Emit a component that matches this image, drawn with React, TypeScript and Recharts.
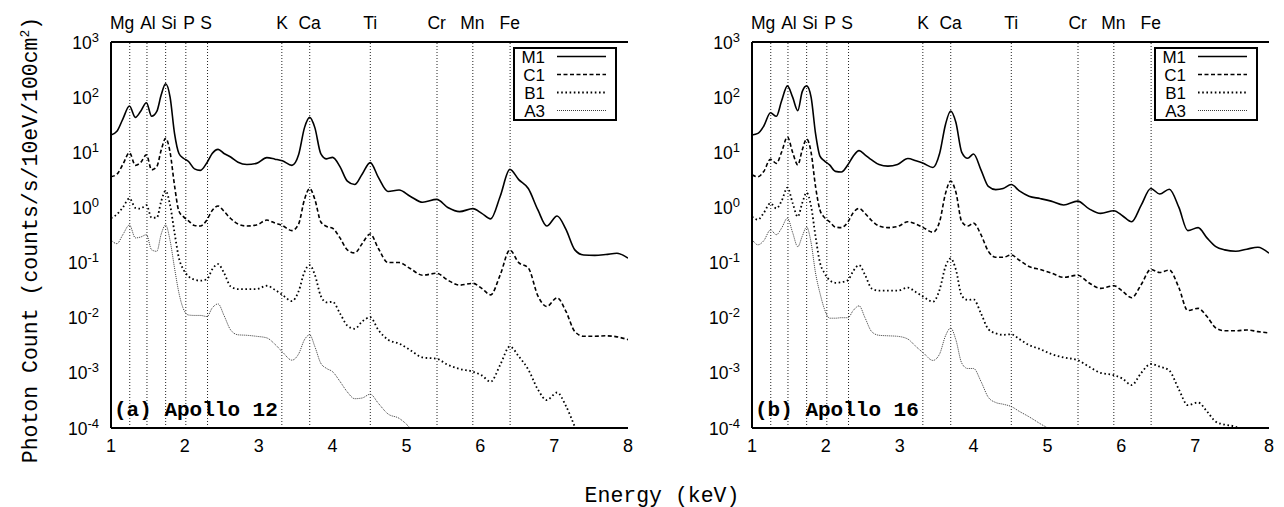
import React from 'react';
import { LineChart, Line, XAxis, YAxis, ReferenceLine, Legend } from 'recharts';

// ---------- data ----------
const energy = [1.00,1.08,1.16,1.25,1.33,1.40,1.48,1.55,1.62,1.68,1.74,1.80,1.86,1.92,1.98,2.05,2.13,2.21,2.30,2.37,2.45,2.53,2.62,2.72,2.84,2.97,3.11,3.22,3.32,3.45,3.54,3.62,3.69,3.76,3.84,3.92,4.00,4.10,4.20,4.30,4.40,4.51,4.62,4.75,4.90,5.05,5.22,5.41,5.56,5.72,5.90,6.02,6.14,6.27,6.40,6.52,6.65,6.78,6.90,7.04,7.16,7.28,7.40,7.55,7.70,7.85,8.00];

const m1Apollo12 = [20.6,24,40,69,43,55,79,45,55,110,175,100,22,9.5,7.8,6.8,5.0,4.7,6.5,9.5,11.3,9.5,8.2,6.6,6.0,6.3,8.0,7.5,7.0,5.8,9,28,43,28,9.5,7.6,8.1,5.5,3.0,2.6,4.0,6.5,3.5,1.95,2.07,1.6,1.24,1.40,1.0,0.84,0.95,0.78,0.62,1.6,4.9,3.2,2.2,0.9,0.46,0.70,0.40,0.17,0.137,0.135,0.14,0.148,0.12];
const c1Apollo12 = [3.6,4.0,6.0,9.8,5.8,6.5,9.0,4.8,5.5,11,18,10,2.5,0.85,0.68,0.57,0.47,0.46,0.6,0.88,1.06,0.85,0.63,0.5,0.46,0.48,0.59,0.52,0.47,0.38,0.5,1.4,2.2,1.4,0.55,0.45,0.42,0.28,0.17,0.15,0.22,0.33,0.18,0.10,0.10,0.078,0.059,0.064,0.048,0.039,0.042,0.034,0.026,0.06,0.168,0.1,0.08,0.025,0.016,0.023,0.013,0.0056,0.0046,0.0046,0.0047,0.0045,0.004];
const b1Apollo12 = [0.64,0.75,1.0,1.46,0.98,0.95,1.1,0.65,0.65,1.3,2.0,1.1,0.35,0.12,0.075,0.056,0.049,0.047,0.05,0.075,0.094,0.065,0.037,0.033,0.033,0.033,0.038,0.032,0.026,0.020,0.03,0.068,0.09,0.06,0.025,0.019,0.0195,0.012,0.0072,0.0063,0.0085,0.0102,0.006,0.004,0.0034,0.0026,0.0019,0.0018,0.0014,0.00118,0.00105,0.0009,0.00069,0.0014,0.003,0.002,0.00115,0.0005,0.00032,0.00044,0.00025,0.000105,0.00004,null,null,null,null];
const a3Apollo12 = [0.257,0.22,0.32,0.48,0.28,0.29,0.32,0.17,0.16,0.33,0.48,0.25,0.08,0.028,0.0145,0.0112,0.011,0.011,0.0105,0.015,0.0178,0.011,0.006,0.0049,0.0048,0.0046,0.0043,0.0033,0.0024,0.0017,0.0022,0.004,0.0049,0.003,0.0015,0.0012,0.00105,0.0007,0.00045,0.00034,0.00035,0.00041,0.00028,0.00018,0.00015,0.0001,0.00005,null,null,null,null,null,null,null,null,null,null,null,null,null,null,null,null,null,null,null,null];

const m1Apollo16 = [20.6,22,30,52,45,85,160,100,57,126,160,100,22,8.5,7.0,5.9,4.5,4.4,6.0,8.5,10.7,9,7.3,6.0,5.6,6.0,7.7,7.0,6.3,5.3,9.5,32,56,35,10,7.8,9.3,4.8,2.4,2.1,2.2,2.6,2.0,1.6,1.45,1.3,1.11,1.30,0.95,0.78,0.87,0.7,0.55,1.1,2.2,1.75,2.14,1.0,0.38,0.43,0.28,0.195,0.17,0.16,0.175,0.19,0.148];
const c1Apollo16 = [3.9,3.6,4.5,7.5,6.3,10,19,10,5.9,11,17.4,10,2.4,0.9,0.66,0.55,0.44,0.43,0.55,0.8,0.96,0.78,0.58,0.46,0.43,0.45,0.55,0.5,0.43,0.355,0.55,1.8,3.0,1.9,0.55,0.46,0.52,0.32,0.16,0.125,0.125,0.137,0.11,0.085,0.075,0.065,0.054,0.059,0.043,0.034,0.038,0.03,0.023,0.04,0.075,0.066,0.073,0.035,0.0135,0.0148,0.0105,0.0065,0.0058,0.0058,0.006,0.0056,0.0053];
const b1Apollo16 = [0.68,0.6,0.8,1.19,0.96,1.3,2.29,1.2,0.68,1.2,1.85,1.05,0.3,0.1,0.065,0.048,0.043,0.044,0.048,0.07,0.09,0.06,0.034,0.031,0.031,0.031,0.035,0.029,0.024,0.0195,0.032,0.085,0.119,0.075,0.025,0.021,0.0215,0.012,0.0062,0.0052,0.0049,0.005,0.0041,0.0032,0.0027,0.0022,0.0019,0.0017,0.0013,0.001,0.00091,0.00078,0.0006,0.001,0.00145,0.0013,0.0011,0.0005,0.00026,0.00029,0.0002,0.00013,0.000115,0.000105,0.00005,null,null];
const a3Apollo16 = [0.264,0.21,0.25,0.39,0.32,0.42,0.64,0.35,0.194,0.3,0.44,0.23,0.065,0.028,0.0145,0.0098,0.0098,0.01,0.01,0.0135,0.0164,0.01,0.0056,0.0048,0.0047,0.0046,0.0041,0.003,0.0023,0.00168,0.0022,0.0047,0.0065,0.004,0.0015,0.0012,0.0012,0.0007,0.00036,0.00029,0.00027,0.000245,0.0002,0.00016,0.00012,0.00009,0.00005,null,null,null,null,null,null,null,null,null,null,null,null,null,null,null,null,null,null,null,null];

const seriesNames = ['M1', 'C1', 'B1', 'A3'];
const elementNames = ['Mg', 'Al', 'Si', 'P', 'S', 'K', 'Ca', 'Ti', 'Cr', 'Mn', 'Fe'];
const elementEnergies = [1.254, 1.487, 1.740, 2.013, 2.307, 3.313, 3.691, 4.511, 5.414, 5.899, 6.404];
const elementLabelEnergies = [1.15, 1.50, 1.785, 2.056, 2.286, 3.315, 3.69, 4.51, 5.41, 5.894, 6.40];
const xTicks = [1, 2, 3, 4, 5, 6, 7, 8];
const yTicks = [1e-4, 1e-3, 1e-2, 1e-1, 1, 10, 100, 1000];
const minorMultipliers = [2, 3, 4, 5, 6, 7, 8, 9];
const yMinorTicks = yTicks.slice(0, 7).flatMap((d) => minorMultipliers.map((m) => m * d));

// ---------- styles ----------
const SANS = '"Liberation Sans", Arial, Helvetica, sans-serif';
const MONO = '"Liberation Mono", "Courier New", monospace';
const lineStyles = [
  { stroke: '#000', strokeWidth: 1.6, dash: undefined as string | undefined },
  { stroke: '#000', strokeWidth: 1.6, dash: '4 2.5' },
  { stroke: '#000', strokeWidth: 1.8, dash: '1.6 2.6' },
  { stroke: '#3a3a3a', strokeWidth: 1, dash: '1 1' },
];
const W_PLOT_RIGHT = 628;

const LogTick = (props: any) => {
  const { x, y, payload } = props;
  const exp = Math.round(Math.log10(payload.value));
  return (
    <text x={x} y={y} dy={6.5} textAnchor="end" fontFamily={SANS} fontSize={17.5} fill="#000">
      10
      <tspan dy={-7} fontSize={13}>{String(exp)}</tspan>
    </text>
  );
};

const LegendBox = () => (
  <svg width={104} height={74} style={{ display: 'block' }}>
    <rect x={1} y={1} width={102} height={72} fill="#fff" stroke="#000" strokeWidth={2} />
    {seriesNames.map((n, i) => (
      <g key={n}>
        <text x={32} y={15.5 + 18.3 * i} textAnchor="end" fontFamily={SANS} fontSize={17} fill="#000">{n}</text>
        <line
          x1={44}
          x2={93}
          y1={9.5 + 18 * i}
          y2={9.5 + 18 * i}
          stroke={lineStyles[i].stroke}
          strokeWidth={lineStyles[i].strokeWidth}
          strokeDasharray={lineStyles[i].dash}
        />
      </g>
    ))}
  </svg>
);

function Panel({ series, width }: { series: (number | null)[][]; width: number }) {
  const data = energy.map((e, i) => ({ e, s0: series[0][i], s1: series[1][i], s2: series[2][i], s3: series[3][i] }));
  const axisLine = { stroke: '#000', strokeWidth: 2 };
  const tickLine = { stroke: '#000', strokeWidth: 1.3 };
  return (
    <LineChart width={width} height={507} data={data} margin={{ top: 12, right: width - W_PLOT_RIGHT, bottom: 49, left: 51 }}>
      <XAxis xAxisId="b" orientation="bottom" dataKey="e" type="number" domain={[1, 8]} allowDataOverflow ticks={xTicks} interval={0}
        height={30} tickLine={false} tickSize={0} tickMargin={11} axisLine={axisLine}
        tick={{ fill: '#000', fontSize: 18, fontFamily: SANS }} />
      <XAxis xAxisId="bt" orientation="bottom" mirror dataKey="e" type="number" domain={[1, 8]} allowDataOverflow ticks={xTicks} interval={0}
        height={0} tick={false} tickSize={7} tickLine={tickLine} axisLine={false} />
      <XAxis xAxisId="t" orientation="top" dataKey="e" type="number" domain={[1, 8]} allowDataOverflow ticks={elementLabelEnergies} interval={0}
        tickFormatter={(v: number) => elementNames[elementLabelEnergies.indexOf(v)] ?? ''}
        height={30} tickLine={false} tickSize={0} tickMargin={13} axisLine={axisLine}
        tick={{ fill: '#000', fontSize: 17.5, fontFamily: SANS }} />
      <XAxis xAxisId="tt" orientation="top" mirror dataKey="e" type="number" domain={[1, 8]} allowDataOverflow ticks={xTicks} interval={0}
        height={0} tick={false} tickSize={7} tickLine={tickLine} axisLine={false} />

      <YAxis yAxisId="l" orientation="left" width={60} type="number" scale="log" domain={[1e-4, 1e3]} allowDataOverflow ticks={yTicks} interval={0}
        tickLine={false} tickSize={0} tickMargin={12} axisLine={axisLine} tick={(p: any) => <LogTick {...p} />} />
      <YAxis yAxisId="lt" orientation="left" mirror width={0} type="number" scale="log" domain={[1e-4, 1e3]} allowDataOverflow ticks={yTicks} interval={0}
        tick={false} tickSize={7} tickLine={tickLine} axisLine={false} />
      <YAxis yAxisId="lm" orientation="left" mirror width={0} type="number" scale="log" domain={[1e-4, 1e3]} allowDataOverflow ticks={yMinorTicks} interval={0}
        tick={false} tickSize={4} tickLine={tickLine} axisLine={false} />
      <YAxis yAxisId="r" orientation="right" mirror width={0} type="number" scale="log" domain={[1e-4, 1e3]} allowDataOverflow ticks={yTicks} interval={0}
        tick={false} tickSize={7} tickLine={tickLine} axisLine={axisLine} />
      <YAxis yAxisId="rm" orientation="right" mirror width={0} type="number" scale="log" domain={[1e-4, 1e3]} allowDataOverflow ticks={yMinorTicks} interval={0}
        tick={false} tickSize={4} tickLine={tickLine} axisLine={false} />

      {elementEnergies.map((x) => (
        <ReferenceLine key={x} x={x} xAxisId="b" yAxisId="l" stroke="#222" strokeWidth={1} strokeDasharray="1 2" />
      ))}

      {seriesNames.map((n, i) => (
        <Line key={n} name={n} xAxisId="b" yAxisId="l" dataKey={`s${i}`} type="monotone"
          stroke={lineStyles[i].stroke} strokeWidth={lineStyles[i].strokeWidth} strokeDasharray={lineStyles[i].dash}
          dot={false} activeDot={false} isAnimationActive={false} connectNulls={false} />
      ))}

      <Legend layout="vertical" verticalAlign="middle" align="center" content={() => <LegendBox />}
        wrapperStyle={{ left: 513, top: 47, width: 104, height: 74 }} />
    </LineChart>
  );
}

export default function App() {
  return (
    <div style={{ position: 'absolute', left: 0, top: 0, width: 1284, height: 507, background: '#fff', overflow: 'hidden' }}>
      <div style={{ position: 'absolute', left: 0, top: 0 }}>
        <Panel series={[m1Apollo12, c1Apollo12, b1Apollo12, a3Apollo12]} width={641} />
      </div>
      <div style={{ position: 'absolute', left: 641, top: 0 }}>
        <Panel series={[m1Apollo16, c1Apollo16, b1Apollo16, a3Apollo16]} width={643} />
      </div>
      <svg width={1284} height={507} style={{ position: 'absolute', left: 0, top: 0, pointerEvents: 'none' }}>
        <text transform="translate(37,240) rotate(-90)" textAnchor="middle" fontFamily={MONO} fontSize={21.5} fill="#000">
          Photon Count (counts/s/10eV/100cm<tspan dy={-8} fontSize={13}>2</tspan><tspan dy={8}>)</tspan>
        </text>
        <text x={662} y={502} textAnchor="middle" fontFamily={MONO} fontSize={21.5} fill="#000">Energy (keV)</text>
        <text x={114} y={416} fontFamily={MONO} fontWeight="bold" fontSize={21} fill="#000">(a) Apollo 12</text>
        <text x={755} y={416} fontFamily={MONO} fontWeight="bold" fontSize={21} fill="#000">(b) Apollo 16</text>
      </svg>
    </div>
  );
}
